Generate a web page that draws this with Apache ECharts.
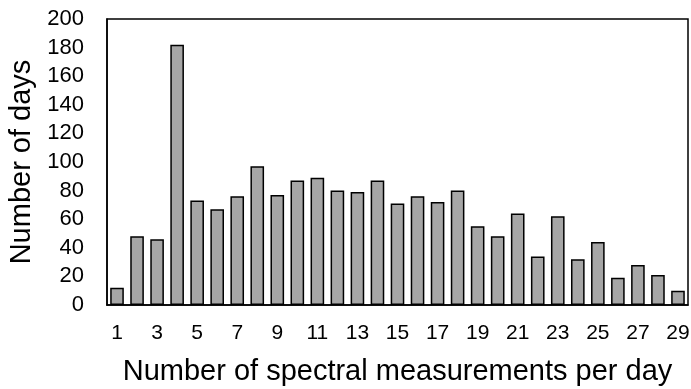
<!DOCTYPE html>
<html>
<head>
<meta charset="utf-8">
<script src="https://cdn.jsdelivr.net/npm/echarts@6/dist/echarts.min.js"></script>
<style>
  html, body { margin: 0; padding: 0; background: #fff; }
  #main { width: 691px; height: 389px; }
</style>
</head>
<body>
<div id="main"></div>
<script>
let myChart = echarts.init(document.getElementById('main'));

// measurements per day (1..29)
const categories = [];
for (let i = 1; i <= 29; i++) categories.push(String(i));

const days = [12, 48, 46, 182, 73, 67, 76, 97, 77, 87, 89, 80, 79, 87, 71,
  76, 72, 80, 55, 48, 64, 34, 62, 32, 44, 19, 28, 21, 10];

const font = 'Liberation Sans, Arial, sans-serif';

let option = {
  animation: false,
  grid: {
    left: 107,
    right: 3,
    top: 19,
    bottom: 84,
    outerBoundsMode: 'none',
    show: true,
    borderColor: '#000',
    borderWidth: 1.5
  },
  xAxis: {
    type: 'category',
    data: categories,
    name: 'Number of spectral measurements per day',
    nameLocation: 'middle',
    nameGap: 52,
    nameTextStyle: { fontFamily: font, fontSize: 29, color: '#000' },
    axisLine: { lineStyle: { color: '#000', width: 1.5 } },
    axisTick: { show: false },
    axisLabel: {
      interval: 1,
      margin: 18,
      fontFamily: font,
      fontSize: 21,
      color: '#000'
    }
  },
  yAxis: {
    type: 'value',
    min: 0,
    max: 200,
    interval: 20,
    name: 'Number of days',
    nameLocation: 'middle',
    nameGap: 70,
    nameTextStyle: { fontFamily: font, fontSize: 29, color: '#000' },
    axisLine: { show: true, lineStyle: { color: '#000', width: 1.5 } },
    axisTick: { show: false },
    splitLine: { show: false },
    axisLabel: {
      margin: 23,
      fontFamily: font,
      fontSize: 22,
      color: '#000'
    }
  },
  series: [
    {
      type: 'bar',
      data: days,
      barCategoryGap: '32%',
      itemStyle: {
        color: '#a6a6a6',
        borderColor: '#000',
        borderWidth: 1.5
      }
    }
  ]
};

myChart.setOption(option);
</script>
</body>
</html>
